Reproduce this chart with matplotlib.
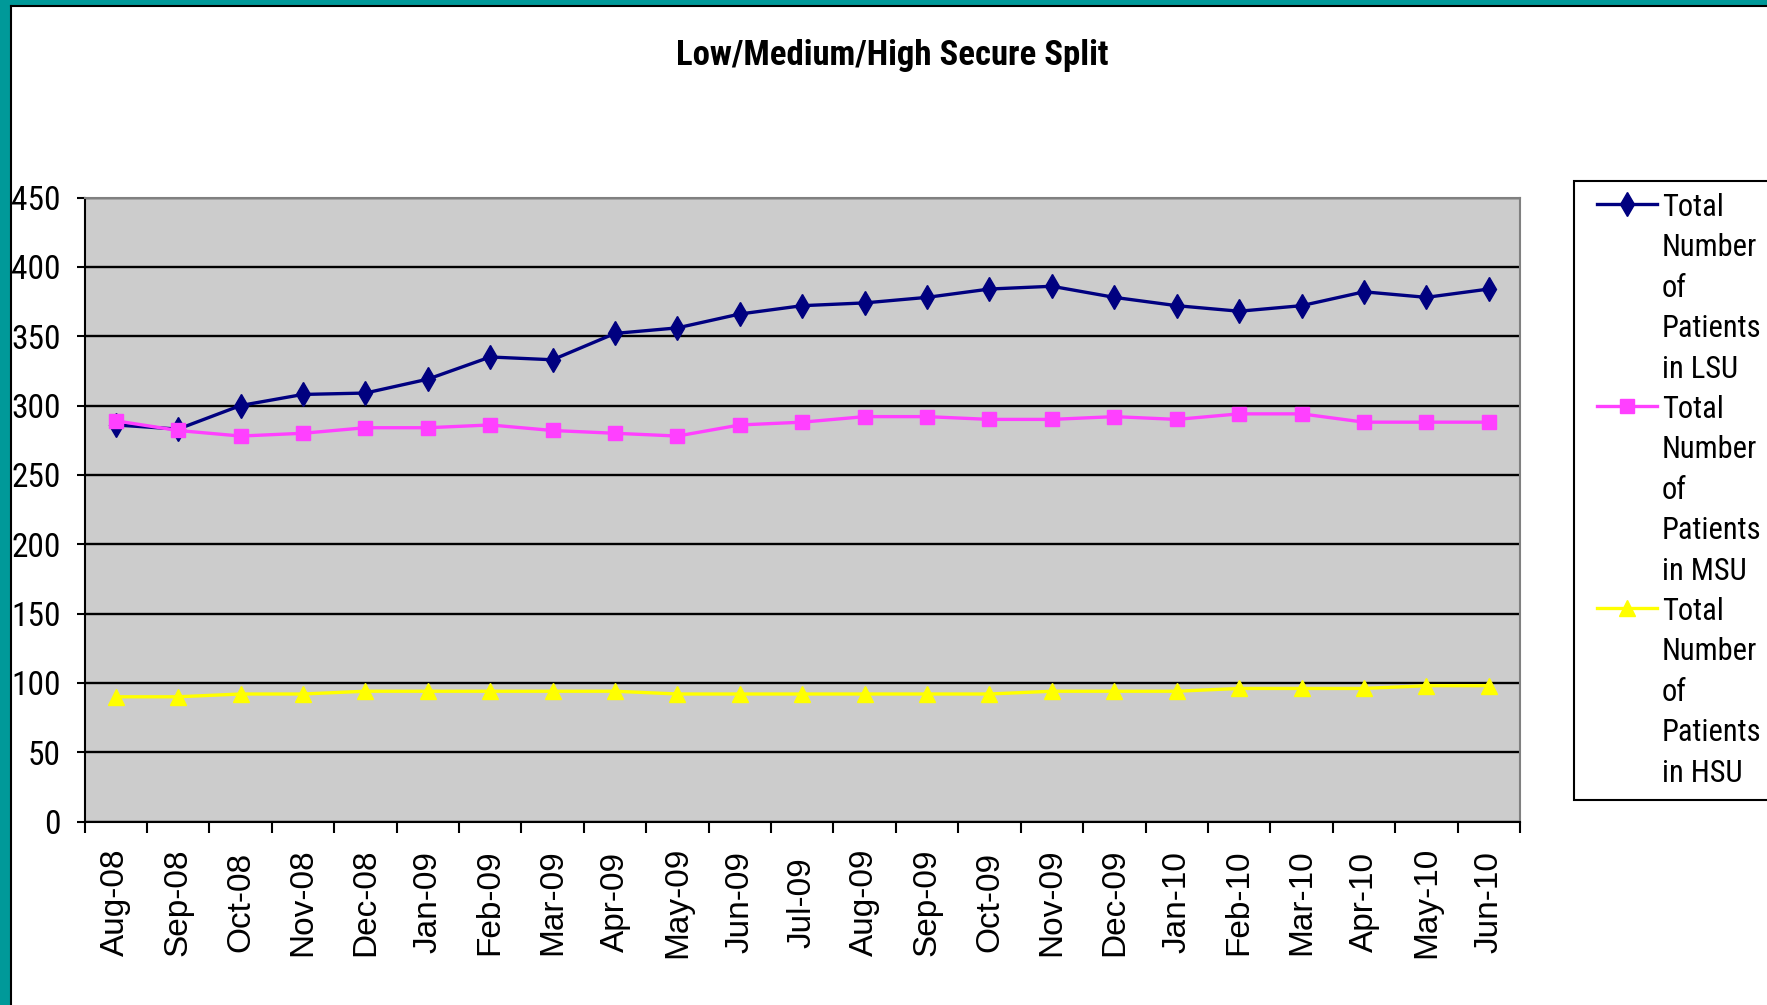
import matplotlib
matplotlib.use('Agg')
import matplotlib.pyplot as plt
import matplotlib.font_manager as fm
from matplotlib.lines import Line2D
from matplotlib.patches import Rectangle

months = ['Aug-08', 'Sep-08', 'Oct-08', 'Nov-08', 'Dec-08', 'Jan-09', 'Feb-09', 'Mar-09',
          'Apr-09', 'May-09', 'Jun-09', 'Jul-09', 'Aug-09', 'Sep-09', 'Oct-09', 'Nov-09',
          'Dec-09', 'Jan-10', 'Feb-10', 'Mar-10', 'Apr-10', 'May-10', 'Jun-10']
lsu = [286, 283, 300, 308, 309, 319, 335, 333, 352, 356, 366, 372, 374, 378, 384, 386,
       378, 372, 368, 372, 382, 378, 384]
msu = [289, 282, 278, 280, 284, 284, 286, 282, 280, 278, 286, 288, 292, 292, 290, 290,
       292, 290, 294, 294, 288, 288, 288]
hsu = [90, 90, 92, 92, 94, 94, 94, 94, 94, 92, 92, 92, 92, 92, 92, 94,
       94, 94, 96, 96, 96, 98, 98]
labels = ['Total\nNumber\nof\nPatients\nin LSU',
          'Total\nNumber\nof\nPatients\nin MSU',
          'Total\nNumber\nof\nPatients\nin HSU']
y_ticks = list(range(0, 451, 50))

W, H = 1767, 1005


def pick_narrow(bold=False):
    # look for an installed condensed/narrow sans face, best match first
    prefs = ['Liberation Sans Narrow', 'Arial Narrow', 'Roboto Condensed', 'Open Sans Condensed',
             'Noto Sans', 'DejaVu Sans Condensed', 'DejaVu Sans', 'Open Sans', 'Roboto', 'Inter']
    found = {}
    for f in fm.fontManager.ttflist:
        narrowish = f.stretch in ('condensed', 'semi-condensed', 'extra-condensed') or \
            'Narrow' in f.name or 'Condensed' in f.name or 'Condensed' in f.fname
        if not narrowish or f.style != 'normal':
            continue
        w = f.weight if isinstance(f.weight, int) else (700 if 'bold' in str(f.weight) else 400)
        if bold != (w >= 600):
            continue
        found.setdefault(f.name, f.fname)
    for p in prefs:
        if p in found:
            return found[p]
    if found:
        return list(found.values())[0]
    return None


reg_path = pick_narrow(False)
bold_path = pick_narrow(True)


def nfont(size, bold=False):
    path = bold_path if bold else reg_path
    if path:
        return fm.FontProperties(fname=path, size=size)
    # no narrow face: Liberation Sans a little smaller
    return fm.FontProperties(family=['Liberation Sans', 'DejaVu Sans'], size=size * 0.85,
                             weight='bold' if bold else 'normal')


fig = plt.figure(figsize=(W / 100, H / 100), dpi=100)
fig.patch.set_facecolor('white')

# teal frame on the left and top, with thin black inner line
fig.add_artist(Rectangle((0, 0), 10 / W, 1, transform=fig.transFigure, color='#009999', lw=0))
fig.add_artist(Rectangle((0, 1 - 5 / H), 1, 5 / H, transform=fig.transFigure, color='#009999', lw=0))
fig.add_artist(Line2D([11 / W, 11 / W], [0, 1 - 6 / H], transform=fig.transFigure, color='black', lw=1.5))
fig.add_artist(Line2D([11 / W, 1], [1 - 6 / H, 1 - 6 / H], transform=fig.transFigure, color='black', lw=1.5))

ax = fig.add_axes([84.5 / W, 1 - 821.6 / H, (1520 - 84.5) / W, (821.6 - 197.5) / H])
ax.set_facecolor('#CCCCCC')

x = list(range(len(months)))
series = [
    (lsu, '#000080', 'd', 12),
    (msu, '#FF40FF', 's', 10),
    (hsu, '#FFFF00', '^', 11),
]
for vals, col, mk, ms in series:
    ax.plot(x, vals, color=col, lw=2.4, marker=mk, markersize=ms,
            markerfacecolor=col, markeredgecolor=col, zorder=3)

ax.set_xlim(-0.5, len(months) - 0.5)
ax.set_ylim(0, 450)
ax.set_yticks(y_ticks)
ax.set_yticklabels([str(v) for v in y_ticks])
for t in ax.get_yticklabels():
    t.set_fontproperties(nfont(24))
ax.yaxis.grid(True, color='black', lw=1.7)
ax.set_axisbelow(True)

ax.set_xticks(x)
ax.set_xticklabels(months, rotation=90, family=['Liberation Sans', 'DejaVu Sans'], fontsize=24,
                   va='center', ha='center')
ax.set_xticks([i - 0.5 for i in range(len(months) + 1)], minor=True)
ax.tick_params(axis='x', which='major', length=0, pad=58)
ax.tick_params(axis='x', which='minor', length=8, width=1.5, direction='out')
ax.tick_params(axis='y', length=6, width=1.5, direction='out', pad=11)

for s in ['top', 'right']:
    ax.spines[s].set_color('#808080')
    ax.spines[s].set_linewidth(1.5)
for s in ['left', 'bottom']:
    ax.spines[s].set_color('black')
    ax.spines[s].set_linewidth(1.5)

fig.text(892 / W, 1 - 55 / H, 'Low/Medium/High Secure Split', ha='center', va='center',
         fontproperties=nfont(25, bold=True),
         fontweight='bold')

# legend drawn by hand so the marker sits on the first text line
fig.add_artist(Rectangle((1574 / W, 1 - 800 / H), 300 / W, (800 - 181) / H,
                         transform=fig.transFigure, facecolor='white', edgecolor='black', lw=1.5))
line_h = 40.4
y0 = 204
for i, (vals, col, mk, ms) in enumerate(series):
    yc = y0 + i * 5 * line_h
    fig.add_artist(Line2D([1597 / W, 1627 / W, 1657 / W], [1 - yc / H] * 3,
                          transform=fig.transFigure, color=col, lw=2.4, marker=mk,
                          markersize=ms, markevery=[1], markerfacecolor=col, markeredgecolor=col))
    for k, ln in enumerate(labels[i].split('\n')):
        fig.text(1662 / W, 1 - (yc + k * line_h + 12) / H, ln, ha='left', va='baseline',
                 fontproperties=nfont(22))

fig.savefig('out.png', dpi=100)
